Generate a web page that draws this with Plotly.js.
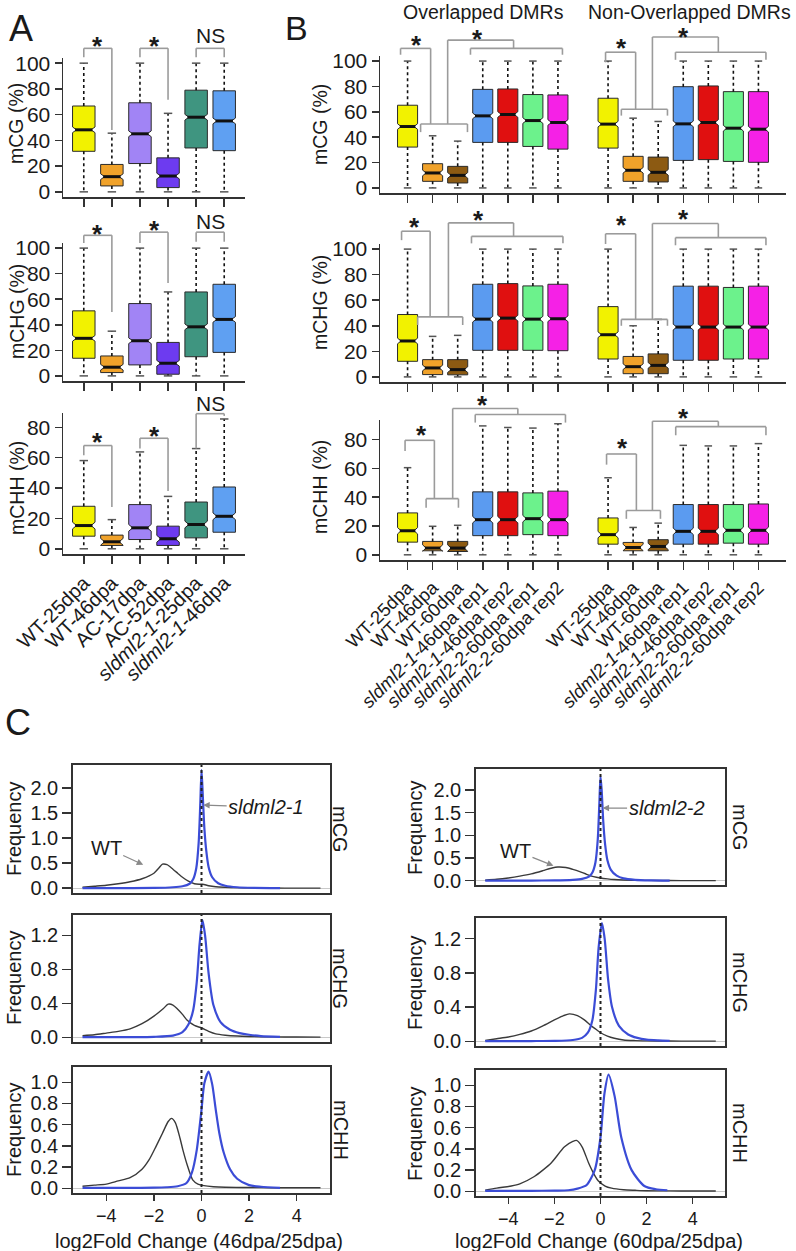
<!DOCTYPE html>
<html><head><meta charset="utf-8">
<script src="https://cdn.plot.ly/plotly-3.0.1.min.js"></script>
<style>html,body{margin:0;padding:0;background:#fff}#chart{width:796px;height:1251px}</style>
</head><body><div id="chart"></div>
<script>
// ================= DATA =================
// ---- Panel A ----
const A_labels = ['WT-25dpa','WT-46dpa','AC-17dpa','AC-52dpa','<i>sldml2-1</i>-25dpa','<i>sldml2-1</i>-46dpa'];
const A_pos = [1,2,3,4,5,6];
const A_colors = ['#F2F200','#F0A22A','#A184F5','#6D3BF0','#3F9580','#5FA0F2'];
const A_mCG_lo  = [0,0,0,0,0,0];
const A_mCG_q1  = [31.5,4.6,22,3.3,34.1,32];
const A_mCG_med = [48.2,11.8,45.1,12.3,58,55.1];
const A_mCG_q3  = [66.7,21.3,69.2,26.4,79,78.5];
const A_mCG_hi  = [100,45.6,100,61,100,100];
const A_mCHG_lo  = [0,0,0,0,0,0];
const A_mCHG_q1  = [13.8,2.6,8.6,1.3,15,18.4];
const A_mCHG_med = [29.4,6.8,27.5,9.9,38.4,44.2];
const A_mCHG_q3  = [50.9,15.6,56.6,26.2,65.7,71.7];
const A_mCHG_hi  = [100,35,100,65.7,100,100];
const A_mCHH_lo  = [0,0,0,0,0,0];
const A_mCHH_q1  = [8.3,2.2,6.1,2.2,7.2,10.9];
const A_mCHH_med = [15.3,4.6,13.8,6.6,16,21.4];
const A_mCHH_q3  = [28,9,29.1,14.9,30.8,40.7];
const A_mCHH_hi  = [58.1,19.2,63.8,34.5,66,85.5];

// ---- Panel B ----
const B_groupNames = ['Overlapped DMRs','Non-Overlapped DMRs'];
const B_sampleLabels = ['WT-25dpa','WT-46dpa','WT-60dpa','<i>sldml2-1</i>-46dpa rep1','<i>sldml2-1</i>-46dpa rep2','<i>sldml2-2</i>-60dpa rep1','<i>sldml2-2</i>-60dpa rep2'];
const B_pos = [1,2,3,4,5,6,7, 9,10,11,12,13,14,15];
const B_sampleColors = ['#F2F200','#F0A22A','#8C5A12','#5B9BF0','#E01010','#6CF28C','#F521E6'];
const B_mCG_lo  = [0,0,0,0,0,0,0, 0,0,0,0,0,0,0];
const B_mCG_q1  = [32.2,5.2,3.9,35.9,35.9,32.7,30.6, 31.4,5.2,4.7,21.7,22.3,20.9,20.2];
const B_mCG_med = [48.4,11.8,9.9,56.8,57.9,53.1,51.6, 50.3,13.9,12.3,50.5,51.6,47.1,46.3];
const B_mCG_q3  = [65.2,19.1,17,77.7,78,73.6,73.3, 70.7,24.9,24.3,79.8,80.4,75.9,75.9];
const B_mCG_hi  = [100,41.1,36.9,100,100,100,100, 100,55,52.4,100,100,100,100];
const B_mCHG_lo  = [0,0,0,0,0,0,0, 0,0,0,0,0,0,0];
const B_mCHG_q1  = [12.2,1.8,1.6,20.8,20.8,20.8,20.5, 14,2.5,2.5,13,13,14,14];
const B_mCHG_med = [28.1,7,5.7,45.2,46,45.2,45.5, 33,8,9,39,39,39,39];
const B_mCHG_q3  = [48.8,13.5,13.5,72.5,73,71.2,72.5, 55,16,18,71,71,70,71];
const B_mCHG_hi  = [100,31.7,32.5,100,100,100,100, 100,40,45,100,100,100,100];
const B_mCHH_lo  = [0,0,0,0,0,0,0, 0,0,0,0,0,0,0];
const B_mCHH_q1  = [8.8,2.8,2.3,13.3,13.3,14,13.3, 7.4,2.8,2.8,7.4,7.4,8.1,7.4];
const B_mCHH_med = [16.7,4.7,4.7,24.4,24.4,25.1,24.4, 14,5.1,5.8,16.3,16.3,17,17];
const B_mCHH_q3  = [29.1,9.3,9.3,43.7,43.7,43,44.2, 25.6,8.6,10.5,34.9,34.9,34.9,35.3];
const B_mCHH_hi  = [60.5,19.8,20.5,89.5,88.4,88,91, 53.5,19,22,76,75.6,75.6,77.2];

// ---- Panel C (density curves, log2 fold change) ----
const C46_mCG_WT_x  = [-5,-4.5,-4,-3.5,-3,-2.5,-2,-1.8,-1.64,-1.45,-1.2,-1,-0.8,-0.55,-0.3,-0.1,0.05,0.3,0.6,1,1.5,2,3,4,5];
const C46_mCG_WT_y  = [0.02,0.04,0.06,0.09,0.13,0.19,0.3,0.4,0.48,0.47,0.38,0.3,0.22,0.14,0.09,0.08,0.08,0.05,0.03,0.02,0.012,0.008,0.004,0.002,0.002];
const C46_mCG_MU_x  = [-5,-3,-2,-1.2,-0.8,-0.5,-0.35,-0.22,-0.12,-0.05,0,0.05,0.12,0.2,0.3,0.45,0.7,1,1.5,2.2,3.3];
const C46_mCG_MU_y  = [0.002,0.003,0.006,0.02,0.04,0.09,0.18,0.4,0.9,1.7,2.36,1.9,1.2,0.75,0.42,0.22,0.1,0.05,0.02,0.008,0.003];
const C46_mCHG_WT_x = [-5,-4.5,-4,-3.5,-3,-2.5,-2,-1.6,-1.4,-1.2,-1,-0.8,-0.6,-0.3,0,0.3,0.6,1,1.5,2,3,4,5];
const C46_mCHG_WT_y = [0.02,0.03,0.05,0.07,0.1,0.16,0.25,0.34,0.39,0.38,0.33,0.27,0.2,0.14,0.11,0.07,0.04,0.025,0.015,0.01,0.005,0.003,0.002];
const C46_mCHG_MU_x = [-5,-3,-2,-1.2,-0.8,-0.55,-0.35,-0.2,-0.08,0.04,0.15,0.3,0.5,0.8,1.2,1.6,2,2.5,3.3];
const C46_mCHG_MU_y = [0.002,0.003,0.006,0.02,0.06,0.15,0.32,0.65,1.1,1.38,1.2,0.75,0.38,0.18,0.09,0.05,0.03,0.015,0.005];
const C46_mCHH_WT_x = [-5,-4.5,-4,-3.5,-3,-2.5,-2.2,-1.9,-1.64,-1.4,-1.26,-1.1,-0.9,-0.78,-0.6,-0.37,-0.15,0.1,0.5,1,2,3,4,5];
const C46_mCHH_WT_y = [0.02,0.03,0.04,0.07,0.1,0.18,0.27,0.4,0.52,0.63,0.66,0.62,0.47,0.36,0.22,0.08,0.04,0.025,0.015,0.01,0.008,0.006,0.005,0.005];
const C46_mCHH_MU_x = [-5,-3,-2,-1.47,-1,-0.63,-0.4,-0.2,0,0.12,0.3,0.45,0.6,0.75,0.93,1.2,1.5,2,2.5,3.3];
const C46_mCHH_MU_y = [0.005,0.005,0.006,0.01,0.02,0.05,0.15,0.36,0.74,0.99,1.1,0.98,0.74,0.52,0.34,0.18,0.09,0.03,0.015,0.005];
const C60_mCG_WT_x  = [-5,-4.5,-4,-3.5,-3,-2.5,-2.1,-1.85,-1.5,-1.2,-0.9,-0.6,-0.3,0,0.3,0.6,1,1.5,2,3,4,5];
const C60_mCG_WT_y  = [0.01,0.03,0.06,0.1,0.15,0.22,0.28,0.3,0.29,0.25,0.2,0.14,0.09,0.06,0.04,0.025,0.015,0.01,0.006,0.003,0.002,0.002];
const C60_mCG_MU_x  = [-5,-3,-2,-1.2,-0.8,-0.5,-0.35,-0.22,-0.12,-0.05,0,0.05,0.12,0.2,0.3,0.45,0.7,1,1.5,2.2,3];
const C60_mCG_MU_y  = [0.002,0.003,0.006,0.02,0.04,0.09,0.18,0.4,0.9,1.7,2.3,2.0,1.3,0.8,0.45,0.24,0.11,0.05,0.02,0.008,0.003];
const C60_mCHG_WT_x = [-5,-4.5,-4,-3.5,-3,-2.5,-2,-1.6,-1.35,-1,-0.7,-0.4,-0.2,0,0.3,0.6,1,1.5,2,3,4,5];
const C60_mCHG_WT_y = [0.01,0.03,0.05,0.08,0.12,0.18,0.25,0.3,0.32,0.3,0.25,0.18,0.14,0.1,0.06,0.035,0.015,0.008,0.005,0.003,0.002,0.002];
const C60_mCHG_MU_x = [-5,-3,-2,-1.2,-0.8,-0.55,-0.35,-0.2,-0.08,0.06,0.18,0.33,0.5,0.8,1.2,1.6,2,2.5,3];
const C60_mCHG_MU_y = [0.002,0.003,0.005,0.015,0.04,0.1,0.25,0.6,1.1,1.38,1.2,0.72,0.4,0.18,0.08,0.04,0.02,0.01,0.004];
const C60_mCHH_WT_x = [-5,-4.5,-3.87,-3.5,-2.87,-2.5,-2.13,-1.56,-1.2,-1.04,-0.8,-0.52,-0.3,-0.1,0.2,0.48,1,1.5,2,3,4,5];
const C60_mCHH_WT_y = [0.01,0.03,0.05,0.07,0.14,0.2,0.27,0.42,0.47,0.48,0.42,0.27,0.17,0.1,0.05,0.03,0.015,0.01,0.006,0.004,0.003,0.003];
const C60_mCHH_MU_x = [-5,-3,-2,-1.4,-1,-0.6,-0.25,0,0.17,0.35,0.61,0.9,1.35,1.9,2.4,2.9];
const C60_mCHH_MU_y = [0.005,0.005,0.007,0.01,0.025,0.06,0.2,0.51,0.92,1.1,0.9,0.51,0.2,0.05,0.02,0.01];
const C_xTicks = [-4,-2,0,2,4];

// ---- significance brackets (box-position, % value) ----
const A_brk = {
  1: {lines: [[[1,104.6],[1,111.5],[2,111.5],[2,48]], [[3,104.6],[3,111.5],[4,111.5],[4,71.5]], [[5,104.6],[5,111.5],[6,111.5],[6,104.6]]],
      marks: [[1.5,119,'*'],[3.5,119,'*'],[5.5,121.5,'NS']]},
  2: {lines: [[[1,104],[1,110],[2,110],[2,50]], [[3,104],[3,112.5],[4,112.5],[4,72.7]], [[5,105],[5,112.5],[6,112.5],[6,105]]],
      marks: [[1.5,116.6,'*'],[3.5,119.7,'*'],[5.5,120.5,'NS']]},
  3: {lines: [[[1,61.6],[1,68],[2,68],[2,27.5]], [[3,66],[3,72.8],[4,72.8],[4,38]], [[5,66],[5,89],[6,89],[6,87.5]]],
      marks: [[1.5,75,'*'],[3.5,79,'*'],[5.5,96,'NS']]}
};
const B_brk = {
  4: {lines: [[[0.72,105],[0.72,110],[1.92,110],[1.92,50.4]], [[1.52,44],[1.52,50.4],[3.39,50.4],[3.39,44]],
              [[2.6,50.4],[2.6,116.5],[5.23,116.5],[5.23,110]], [[3.51,105],[3.51,110],[7.18,110],[7.18,105]],
              [[8.9,99],[8.9,107],[10.1,107],[10.1,62]], [[9.53,57],[9.53,62],[11.37,62],[11.37,57]],
              [[10.77,62],[10.77,119],[13.4,119],[13.4,107]], [[11.69,101],[11.69,107],[15.3,107],[15.3,101]]],
      marks: [[1.36,118,'*'],[3.8,123,'*'],[9.53,116,'*'],[12.0,124.5,'*']]},
  5: {lines: [[[0.76,107],[0.76,114],[1.9,114],[1.9,47]], [[1.4,40.6],[1.4,47],[3.2,47],[3.2,40.6]],
              [[2.63,47],[2.63,120.5],[5.23,120.5],[5.23,110]], [[3.55,104.5],[3.55,110],[7.2,110],[7.2,104.5]],
              [[8.9,104],[8.9,112],[10.1,112],[10.1,45]], [[9.53,40],[9.53,45],[11.37,45],[11.37,40]],
              [[10.77,45],[10.77,120],[13.4,120],[13.4,109]], [[11.69,103],[11.69,109],[15.3,109],[15.3,103]]],
      marks: [[1.28,123,'*'],[3.83,128,'*'],[9.53,124,'*'],[12.0,129,'*']]},
  6: {lines: [[[0.9,72],[0.9,79.5],[2.07,79.5],[2.07,39]], [[1.74,32.7],[1.74,39],[3.03,39],[3.03,32.7]],
              [[2.8,39],[2.8,101.6],[5.4,101.6],[5.4,97.4]], [[3.7,91.8],[3.7,97.4],[7.3,97.4],[7.3,91.8]],
              [[8.94,62.6],[8.94,70],[10.13,70],[10.13,30.8]], [[9.73,25],[9.73,30.8],[11.09,30.8],[11.09,25]],
              [[10.77,30.8],[10.77,92.7],[13.4,92.7],[13.4,89]], [[11.7,83],[11.7,89],[15.3,89],[15.3,83]]],
      marks: [[1.54,88,'*'],[4.0,109,'*'],[9.56,79.3,'*'],[12.0,100,'*']]}
};

// ================= BUILD =================
const W = 796, H = 1251;
const FONT = 'Liberation Sans, Arial, Helvetica, sans-serif';
const INK = '#1a1a1a', AXC = '#333333', BRK = '#9b9b9b';
const xdom = (a,b) => [a/W, b/W];
const ydom = (top,bot) => [1-bot/H, 1-top/H];
const px = v => v/W, py = v => 1 - v/H;
const ax = k => (k===1?'x':'x'+k), ay = k => (k===1?'y':'y'+k);
const axKey = (p,k) => (k===1?p+'axis':p+'axis'+k);

const traces = [], shapes = [], annotations = [];
const layout = {width:W, height:H, margin:{l:0,r:0,t:0,b:0}, paper_bgcolor:'#fff', plot_bgcolor:'rgba(0,0,0,0)',
  showlegend:false, boxmode:'overlay', font:{family:FONT, color:INK}};

const ranges = {};
function boxSubplot(k, xd, yd, xr, yr, ytv, pos, labels, showLab, labSize, colors, lo, q1, med, q3, hi) {
  ranges[k] = {x:xr, y:yr};
  layout[axKey('x',k)] = {domain:xd, range:xr, type:'linear', anchor:ay(k), showline:true, linecolor:AXC, linewidth:1.5,
    ticks:'outside', ticklen:8, tickwidth:1.5, tickcolor:AXC, tickvals:pos, ticktext:labels, showticklabels:showLab,
    tickangle:-45, tickfont:{size:labSize, family:FONT, color:INK}, showgrid:false, zeroline:false, fixedrange:true};
  layout[axKey('y',k)] = {domain:yd, range:yr, type:'linear', anchor:ax(k), showline:true, linecolor:AXC, linewidth:1.5,
    ticks:'outside', ticklen:7, tickwidth:1.5, tickcolor:AXC, tickvals:ytv, tickfont:{size:21, family:FONT, color:INK},
    showgrid:false, zeroline:false, fixedrange:true};
  const wx=[], wy=[], cx=[], cy=[], mx=[], my=[];
  pos.forEach((p,i) => {
    traces.push({type:'box', xaxis:ax(k), yaxis:ay(k), x:[p], q1:[q1[i]], median:[med[i]], q3:[q3[i]],
      lowerfence:[q1[i]], upperfence:[q3[i]], notched:true, notchspan:[2.2], notchwidth:0.18, width:0.8,
      fillcolor:colors[i], line:{color:'#2b2b2b', width:1}, whiskerwidth:0, boxpoints:false, hoverinfo:'skip'});
    wx.push(p,p,null,p,p,null); wy.push(q3[i],hi[i],null,q1[i],lo[i],null);
    cx.push(p-0.15,p+0.15,null,p-0.15,p+0.15,null); cy.push(hi[i],hi[i],null,lo[i],lo[i],null);
    mx.push(p-0.31,p+0.31,null); my.push(med[i],med[i],null);
  });
  traces.push({type:'scatter', mode:'lines', xaxis:ax(k), yaxis:ay(k), x:wx, y:wy, line:{color:'#111', width:1.6, dash:'dot'}, hoverinfo:'skip'});
  traces.push({type:'scatter', mode:'lines', xaxis:ax(k), yaxis:ay(k), x:cx, y:cy, line:{color:'#555', width:1.5}, hoverinfo:'skip'});
  traces.push({type:'scatter', mode:'lines', xaxis:ax(k), yaxis:ay(k), x:mx, y:my, line:{color:'#111', width:3}, hoverinfo:'skip'});
}
function brackets(k, spec) {
  const r = ranges[k];
  const fx = v => (v - r.x[0])/(r.x[1]-r.x[0]);
  const fy = v => (v - r.y[0])/(r.y[1]-r.y[0]);
  spec.lines.forEach(pl => {
    for (let i=0;i<pl.length-1;i++) {
      shapes.push({type:'line', xref:ax(k)+' domain', yref:ay(k)+' domain', x0:fx(pl[i][0]), y0:fy(pl[i][1]),
        x1:fx(pl[i+1][0]), y1:fy(pl[i+1][1]), line:{color:BRK, width:1.6}, layer:'above'});
    }
  });
  spec.marks.forEach(m => {
    const star = m[2]==='*';
    annotations.push({xref:ax(k)+' domain', yref:ay(k)+' domain', x:fx(m[0]), y:fy(m[1]), text: star?'<b>*</b>':m[2], showarrow:false,
      font:{size: star?26:21, family:FONT, color:INK}, yshift: star?-7:0, xanchor:'center', yanchor:'middle'});
  });
}

// Panel A
const A_xd = xdom(63,245), A_xr = [0.26,6.74];
boxSubplot(1, A_xd, ydom(58,197), A_xr, [-4,104], [0,20,40,60,80,100], A_pos, A_labels, false, 20, A_colors, A_mCG_lo, A_mCG_q1, A_mCG_med, A_mCG_q3, A_mCG_hi);
boxSubplot(2, A_xd, ydom(243,381), A_xr, [-4,104], [0,20,40,60,80,100], A_pos, A_labels, false, 20, A_colors, A_mCHG_lo, A_mCHG_q1, A_mCHG_med, A_mCHG_q3, A_mCHG_hi);
boxSubplot(3, A_xd, ydom(413,554), A_xr, [-3.44,89.44], [0,20,40,60,80], A_pos, A_labels, true, 20, A_colors, A_mCHH_lo, A_mCHH_q1, A_mCHH_med, A_mCHH_q3, A_mCHH_hi);
// Panel B
const B_labels = B_sampleLabels.concat(B_sampleLabels);
const B_colors = B_sampleColors.concat(B_sampleColors);
const B_xd = xdom(380,786), B_xr = [-0.1,16.1];
boxSubplot(4, B_xd, ydom(56,193), B_xr, [-4,104], [0,20,40,60,80,100], B_pos, B_labels, false, 18.5, B_colors, B_mCG_lo, B_mCG_q1, B_mCG_med, B_mCG_q3, B_mCG_hi);
boxSubplot(5, B_xd, ydom(244,382), B_xr, [-4,104], [0,20,40,60,80,100], B_pos, B_labels, false, 18.5, B_colors, B_mCHG_lo, B_mCHG_q1, B_mCHG_med, B_mCHG_q3, B_mCHG_hi);
boxSubplot(6, B_xd, ydom(420,560), B_xr, [-3.6,93.6], [0,20,40,60,80], B_pos, B_labels, true, 18.5, B_colors, B_mCHH_lo, B_mCHH_q1, B_mCHH_med, B_mCHH_q3, B_mCHH_hi);
[1,2,3].forEach(k => brackets(k, A_brk[k]));
[4,5,6].forEach(k => brackets(k, B_brk[k]));

// Panel C
function densSubplot(k, xd, yd, yr, ytv, showX, wtx, wty, mux, muy) {
  layout[axKey('x',k)] = {domain:xd, range:[-5.4,5.4], type:'linear', anchor:ay(k), showline:true, mirror:true, linecolor:AXC, linewidth:1.8,
    ticks: showX?'outside':'', ticklen:6, tickwidth:1.5, tickcolor:AXC, tickvals:C_xTicks, showticklabels:showX,
    tickfont:{size:18, family:FONT, color:INK}, showgrid:false, zeroline:false, fixedrange:true};
  layout[axKey('y',k)] = {domain:yd, range:yr, type:'linear', anchor:ax(k), showline:true, mirror:true, linecolor:AXC, linewidth:1.8,
    ticks:'outside', ticklen:9, tickwidth:1.5, tickcolor:AXC, tickvals:ytv, tickformat:'.1f', tickfont:{size:20, family:FONT, color:INK},
    showgrid:false, zeroline:true, zerolinecolor:'#c9c9c9', zerolinewidth:1.2, fixedrange:true};
  shapes.push({type:'line', xref:ax(k), yref:ay(k), x0:0, x1:0, y0:yr[0], y1:yr[1], line:{color:'#222', width:2, dash:'dot'}, layer:'above'});
  traces.push({type:'scatter', mode:'lines', xaxis:ax(k), yaxis:ay(k), x:wtx, y:wty, line:{color:'#3a3a3a', width:1.4, shape:'spline', smoothing:0.7}, hoverinfo:'skip'});
  traces.push({type:'scatter', mode:'lines', xaxis:ax(k), yaxis:ay(k), x:mux, y:muy, line:{color:'#3B4CD6', width:2.2, shape:'spline', smoothing:0.7}, hoverinfo:'skip'});
}
const C46_xd = xdom(73,330), C60_xd = xdom(476,725);
const yr_mCG = [-0.095,2.46], yr_mCHG = [-0.055,1.44], yr_mCHH = [-0.044,1.144];
const tv_mCG = [0,0.5,1,1.5,2], tv_mCHG = [0,0.4,0.8,1.2], tv_mCHH = [0,0.2,0.4,0.6,0.8,1.0];
densSubplot(7, C46_xd, ydom(765,893), yr_mCG, tv_mCG, false, C46_mCG_WT_x, C46_mCG_WT_y, C46_mCG_MU_x, C46_mCG_MU_y);
densSubplot(8, C46_xd, ydom(915,1042), yr_mCHG, tv_mCHG, false, C46_mCHG_WT_x, C46_mCHG_WT_y, C46_mCHG_MU_x, C46_mCHG_MU_y);
densSubplot(9, C46_xd, ydom(1067,1193), yr_mCHH, tv_mCHH, true, C46_mCHH_WT_x, C46_mCHH_WT_y, C46_mCHH_MU_x, C46_mCHH_MU_y);
densSubplot(10, C60_xd, ydom(769,885), yr_mCG, tv_mCG, false, C60_mCG_WT_x, C60_mCG_WT_y, C60_mCG_MU_x, C60_mCG_MU_y);
densSubplot(11, C60_xd, ydom(918,1046), yr_mCHG, tv_mCHG, false, C60_mCHG_WT_x, C60_mCHG_WT_y, C60_mCHG_MU_x, C60_mCHG_MU_y);
densSubplot(12, C60_xd, ydom(1070,1196), yr_mCHH, tv_mCHH, true, C60_mCHH_WT_x, C60_mCHH_WT_y, C60_mCHH_MU_x, C60_mCHH_MU_y);

// curve labels with arrows
function curveLabel(k, x, y, text, axp, ayp) {
  annotations.push({xref:ax(k), yref:ay(k), x, y, text, showarrow:true, ax:axp, ay:ayp, arrowcolor:'#8a8a8a', arrowwidth:1.3,
    arrowhead:2, arrowsize:1, standoff:0, font:{size:20, family:FONT, color:INK}});
}
curveLabel(7, -2.45, 0.47, 'WT', -37, -17);
curveLabel(7, 0.07, 1.66, '<i>sldml2-1</i>', 63, 2);
curveLabel(10, -2.04, 0.33, 'WT', -38, -15);
curveLabel(10, 0.09, 1.6, '<i>sldml2-2</i>', 64, 0);

// text annotations in paper coordinates
function ptext(x, y, text, size, angle, extra) {
  annotations.push(Object.assign({xref:'paper', yref:'paper', x:px(x), y:py(y), text, showarrow:false, textangle:angle||0,
    xanchor:'center', yanchor:'middle', font:{size, family:FONT, color:INK}}, extra||{}));
}
ptext(21, 28, 'A', 36); ptext(296, 28, 'B', 34); ptext(18, 722, 'C', 36);
ptext(483, 12, B_groupNames[0], 19.5); ptext(689, 12, B_groupNames[1], 19.5);
ptext(16, 124, 'mCG (%)', 19.5, -90); ptext(17, 312, 'mCHG (%)', 19.5, -90); ptext(17, 488, 'mCHH (%)', 19.5, -90);
ptext(320, 125, 'mCG (%)', 19.5, -90); ptext(320, 303, 'mCHG (%)', 19.5, -90); ptext(320, 487, 'mCHH (%)', 19.5, -90);
ptext(14, 829, 'Frequency', 20, -90); ptext(14, 978, 'Frequency', 20, -90); ptext(14, 1130, 'Frequency', 20, -90);
ptext(415, 827, 'Frequency', 20, -90); ptext(415, 982, 'Frequency', 20, -90); ptext(415, 1133, 'Frequency', 20, -90);
ptext(340, 829, 'mCG', 20, 90); ptext(340, 978, 'mCHG', 20, 90); ptext(341, 1130, 'mCHH', 20, 90);
ptext(740, 827, 'mCG', 20, 90); ptext(740, 982, 'mCHG', 20, 90); ptext(740, 1133, 'mCHH', 20, 90);
ptext(199, 1241, 'log2Fold Change (46dpa/25dpa)', 20); ptext(599, 1241, 'log2Fold Change (60dpa/25dpa)', 20);

layout.shapes = shapes;
layout.annotations = annotations;
Plotly.newPlot('chart', traces, layout, {staticPlot:true, displayModeBar:false});
</script></body></html>
